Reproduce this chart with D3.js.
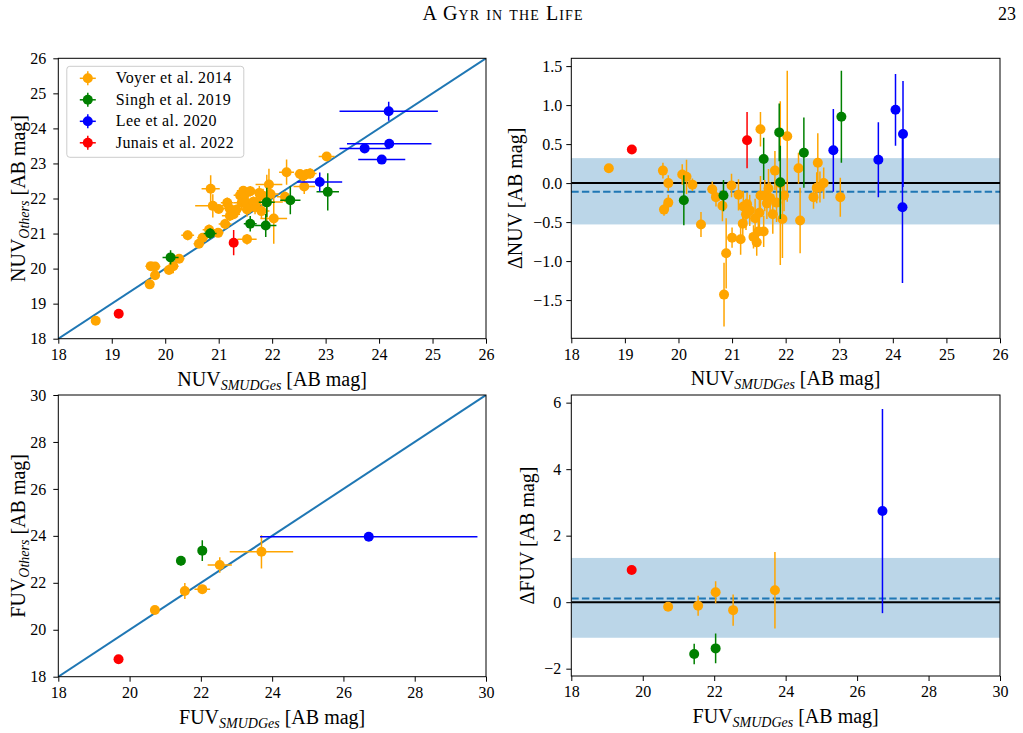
<!DOCTYPE html>
<html>
<head>
<meta charset="utf-8">
<script src="https://cdn.jsdelivr.net/npm/d3@7"></script>
<style>
  body { margin: 0; background: #fff; }
  svg text { font-family: "Liberation Serif", "DejaVu Serif", serif; fill: #000; }
</style>
</head>
<body>
<svg id="fig" width="1023" height="733"></svg>
<script>
// ---- NUV: Voyer et al. 2014 ----
const voyerNuvSmudges = [18.70, 19.71, 19.73, 19.81, 19.81, 20.07, 20.15, 20.26, 20.42, 20.63,
  20.70, 20.82, 20.85, 20.89, 20.99, 21.00, 21.12, 21.16, 21.20, 21.21,
  21.26, 21.28, 21.33, 21.40, 21.46, 21.43, 21.49, 21.53, 21.53, 21.51,
  21.59, 21.61, 21.65, 21.68, 21.71, 21.76, 21.80, 21.83, 21.90, 21.94,
  21.97, 22.03, 22.24, 22.27, 22.52, 22.60, 22.58, 22.64, 22.71, 23.02];
const voyerNuvSmudgesErr = [0.05, 0.08, 0.10, 0.10, 0.08, 0.10, 0.10, 0.10, 0.12, 0.10,
  0.10, 0.12, 0.17, 0.33, 0.10, 0.10, 0.12, 0.12, 0.12, 0.15,
  0.12, 0.12, 0.15, 0.12, 0.12, 0.15, 0.15, 0.18, 0.15, 0.12,
  0.15, 0.15, 0.15, 0.15, 0.15, 0.20, 0.15, 0.15, 0.30, 0.25,
  0.15, 0.25, 0.15, 0.14, 0.10, 0.20, 0.12, 0.12, 0.12, 0.15];
const voyerNuvOthers = [18.51, 19.55, 20.07, 20.06, 19.81, 19.96, 20.07, 20.28, 20.95, 20.71,
  20.88, 21.11, 22.28, 21.79, 21.02, 21.70, 21.27, 21.88, 21.72, 21.51,
  21.66, 21.55, 21.68, 22.09, 22.22, 21.88, 22.11, 20.84, 21.69, 21.89,
  22.21, 21.77, 21.91, 21.75, 21.90, 22.16, 21.64, 22.08, 21.90, 22.40,
  22.13, 21.43, 22.05, 22.75, 22.70, 22.34, 22.64, 22.69, 22.71, 23.20];
const voyerNuvOthersErr = [0.03, 0.08, 0.06, 0.08, 0.08, 0.10, 0.20, 0.06, 0.14, 0.08,
  0.10, 0.15, 0.38, 0.33, 0.12, 0.10, 0.15, 0.15, 0.15, 0.15,
  0.15, 0.10, 0.15, 0.12, 0.12, 0.20, 0.15, 0.15, 0.20, 0.15,
  0.15, 0.15, 0.15, 0.20, 0.15, 0.20, 0.20, 0.20, 0.78, 0.45,
  0.15, 0.72, 0.15, 0.36, 0.10, 0.21, 0.15, 0.15, 0.15, 0.12];
const voyerNuvDelta = [0.19, 0.16, -0.34, -0.25, 0.00, 0.11, 0.08, -0.02, -0.53, -0.08,
  -0.18, -0.29, -1.43, -0.90, -0.03, -0.70, -0.15, -0.72, -0.52, -0.30,
  -0.40, -0.27, -0.35, -0.69, -0.76, -0.45, -0.62, 0.69, -0.16, -0.38,
  -0.62, -0.16, -0.26, -0.07, -0.19, -0.40, 0.16, -0.25, 0.00, -0.46,
  -0.16, 0.60, 0.19, -0.48, -0.18, 0.26, -0.06, -0.05, 0.00, -0.18];
const voyerNuvDeltaErr = [0.03, 0.10, 0.08, 0.10, 0.10, 0.13, 0.22, 0.08, 0.16, 0.10,
  0.12, 0.20, 0.41, 0.45, 0.15, 0.13, 0.20, 0.20, 0.20, 0.20,
  0.20, 0.15, 0.20, 0.15, 0.17, 0.25, 0.20, 0.22, 0.25, 0.20,
  0.20, 0.20, 0.20, 0.25, 0.20, 0.25, 0.25, 0.25, 1.05, 0.50,
  0.20, 0.84, 0.20, 0.42, 0.15, 0.38, 0.20, 0.20, 0.20, 0.25];

// ---- NUV: Singh et al. 2019 ----
const singhNuvSmudges = [20.10, 20.84, 21.59, 21.88, 21.90, 22.34, 23.04];
const singhNuvSmudgesErr = [0.15, 0.12, 0.12, 0.20, 0.15, 0.19, 0.21];
const singhNuvOthers = [20.32, 21.00, 21.28, 21.23, 21.89, 21.95, 22.19];
const singhNuvOthersErr = [0.20, 0.15, 0.22, 0.33, 0.42, 0.40, 0.53];
const singhNuvDelta = [-0.22, -0.16, 0.31, 0.65, 0.01, 0.39, 0.85];
const singhNuvDeltaErr = [0.32, 0.20, 0.27, 0.37, 0.47, 0.45, 0.59];

// ---- NUV: Lee et al. 2020 ----
const leeNuvSmudges = [22.89, 23.73, 24.05, 24.19, 24.18];
const leeNuvSmudgesErr = [0.42, 0.47, 0.44, 0.79, 0.92];
const leeNuvOthers = [22.47, 23.43, 23.11, 23.56, 24.49];
const leeNuvOthersErr = [0.27, 0.10, 0.08, 0.12, 0.27];
const leeNuvDelta = [0.42, 0.30, 0.94, 0.63, -0.31];
const leeNuvDeltaErr = [0.53, 0.48, 0.46, 0.68, 0.97];

// ---- NUV: Junais et al. 2022 ----
const junaisNuvSmudges = [19.13, 21.28];
const junaisNuvSmudgesErr = [0.03, 0.05];
const junaisNuvOthers = [18.71, 20.74];
const junaisNuvOthersErr = [0.03, 0.36];
const junaisNuvDelta = [0.43, 0.55];
const junaisNuvDeltaErr = [0.03, 0.36];

// ---- FUV ----
const voyerFuvSmudges = [20.71, 21.55, 22.04, 22.53, 23.70];
const voyerFuvSmudgesErr = [0.05, 0.10, 0.22, 0.34, 0.89];
const voyerFuvOthers = [20.84, 21.65, 21.73, 22.76, 23.32];
const voyerFuvOthersErr = [0.05, 0.34, 0.10, 0.33, 0.71];
const voyerFuvDelta = [-0.14, -0.11, 0.30, -0.24, 0.36];
const voyerFuvDeltaErr = [0.05, 0.30, 0.33, 0.47, 1.15];

const singhFuvSmudges = [21.44, 22.04];
const singhFuvSmudgesErr = [0.05, 0.05];
const singhFuvOthers = [22.94, 23.37];
const singhFuvOthersErr = [0.20, 0.44];
const singhFuvDelta = [-1.56, -1.39];
const singhFuvDeltaErr = [0.31, 0.45];

const leeFuvSmudges = [26.71];
const leeFuvSmudgesErr = [3.05];
const leeFuvOthers = [23.96];
const leeFuvOthersErr = [0.12];
const leeFuvDelta = [2.74];
const leeFuvDeltaErr = [3.07];

const junaisFuvSmudges = [19.69];
const junaisFuvSmudgesErr = [0.03];
const junaisFuvOthers = [18.74];
const junaisFuvOthersErr = [0.03];
const junaisFuvDelta = [0.97];
const junaisFuvDeltaErr = [0.03];

// mean offset and scatter band of the residuals
const nuvMean = -0.11, nuvBand = [-0.53, 0.32];
const fuvMean = 0.11, fuvBand = [-1.07, 1.33];

const surveyNames = ["Voyer et al. 2014", "Singh et al. 2019", "Lee et al. 2020", "Junais et al. 2022"];
const surveyColors = ["orange", "green", "blue", "red"];

const nuvSeries = [
  [voyerNuvSmudges, voyerNuvSmudgesErr, voyerNuvOthers, voyerNuvOthersErr, voyerNuvDelta, voyerNuvDeltaErr],
  [singhNuvSmudges, singhNuvSmudgesErr, singhNuvOthers, singhNuvOthersErr, singhNuvDelta, singhNuvDeltaErr],
  [leeNuvSmudges, leeNuvSmudgesErr, leeNuvOthers, leeNuvOthersErr, leeNuvDelta, leeNuvDeltaErr],
  [junaisNuvSmudges, junaisNuvSmudgesErr, junaisNuvOthers, junaisNuvOthersErr, junaisNuvDelta, junaisNuvDeltaErr]
];
const fuvSeries = [
  [voyerFuvSmudges, voyerFuvSmudgesErr, voyerFuvOthers, voyerFuvOthersErr, voyerFuvDelta, voyerFuvDeltaErr],
  [singhFuvSmudges, singhFuvSmudgesErr, singhFuvOthers, singhFuvOthersErr, singhFuvDelta, singhFuvDeltaErr],
  [leeFuvSmudges, leeFuvSmudgesErr, leeFuvOthers, leeFuvOthersErr, leeFuvDelta, leeFuvDeltaErr],
  [junaisFuvSmudges, junaisFuvSmudgesErr, junaisFuvOthers, junaisFuvOthersErr, junaisFuvDelta, junaisFuvDeltaErr]
];

const svg = d3.select("#fig");
const lineBlue = "#1f77b4";
const serif = '"Liberation Serif", "DejaVu Serif", serif';

// running header
svg.append("text").attr("x", 503).attr("y", 20).attr("text-anchor", "middle")
  .style("font-size", "20px").style("font-variant", "small-caps").style("letter-spacing", "1.1px")
  .text("A Gyr in the Life");
svg.append("text").attr("x", 1016).attr("y", 20).attr("text-anchor", "end")
  .style("font-size", "18px").text("23");

// text with a subscript: base_sub rest
function subLabel(sel, base, sub, rest) {
  sel.append("tspan").text(base);
  if (sub) sel.append("tspan").attr("dy", 4).style("font-size", "14px").style("font-style", "italic").text(sub);
  sel.append("tspan").attr("dy", sub ? -4 : 0).text(rest);
}

function drawPanel(p) {
  const g = svg.append("g").attr("transform", `translate(${p.left},${p.top})`);
  const x = d3.scaleLinear().domain(p.xDomain).range([0, p.width]);
  const y = d3.scaleLinear().domain(p.yDomain).range([p.height, 0]);

  const clipId = "clip-" + p.id;
  g.append("clipPath").attr("id", clipId)
    .append("rect").attr("width", p.width).attr("height", p.height);
  const plot = g.append("g").attr("clip-path", `url(#${clipId})`);

  if (p.mode === "compare") {
    plot.append("line")
      .attr("x1", x(p.xDomain[0])).attr("y1", y(p.xDomain[0]))
      .attr("x2", x(p.xDomain[1])).attr("y2", y(p.xDomain[1]))
      .attr("stroke", lineBlue).attr("stroke-width", 2);
  } else {
    plot.append("rect").attr("x", 0).attr("width", p.width)
      .attr("y", y(p.band[1])).attr("height", y(p.band[0]) - y(p.band[1]))
      .attr("fill", lineBlue).attr("fill-opacity", 0.3);
    plot.append("line").attr("x1", 0).attr("x2", p.width)
      .attr("y1", y(0)).attr("y2", y(0))
      .attr("stroke", "#000").attr("stroke-width", 2);
    plot.append("line").attr("x1", 0).attr("x2", p.width)
      .attr("y1", y(p.mean)).attr("y2", y(p.mean))
      .attr("stroke", lineBlue).attr("stroke-width", 2).attr("stroke-dasharray", "7.4,3.2");
  }

  p.series.forEach((s, k) => {
    const color = surveyColors[k];
    const pts = s[0].map((v, i) => p.mode === "compare"
      ? { x: v, xe: s[1][i], y: s[2][i], ye: s[3][i] }
      : { x: v, xe: 0, y: s[4][i], ye: s[5][i] });
    const sg = plot.append("g");
    sg.selectAll("line.ey").data(pts).join("line").attr("class", "ey")
      .attr("x1", d => x(d.x)).attr("x2", d => x(d.x))
      .attr("y1", d => y(d.y - d.ye)).attr("y2", d => y(d.y + d.ye))
      .attr("stroke", color).attr("stroke-width", 1.5);
    if (p.mode === "compare") {
      sg.selectAll("line.ex").data(pts).join("line").attr("class", "ex")
        .attr("x1", d => x(d.x - d.xe)).attr("x2", d => x(d.x + d.xe))
        .attr("y1", d => y(d.y)).attr("y2", d => y(d.y))
        .attr("stroke", color).attr("stroke-width", 1.5);
    }
    sg.selectAll("circle").data(pts).join("circle")
      .attr("cx", d => x(d.x)).attr("cy", d => y(d.y)).attr("r", 5)
      .attr("fill", color);
  });

  // frame
  g.append("rect").attr("width", p.width).attr("height", p.height)
    .attr("fill", "none").attr("stroke", "#000").attr("stroke-width", 1);

  const xAxis = g.append("g").attr("transform", `translate(0,${p.height})`)
    .call(d3.axisBottom(x).tickValues(p.xTicks).tickSize(5).tickPadding(5).tickFormat(d3.format("d")));
  const yAxis = g.append("g")
    .call(d3.axisLeft(y).tickValues(p.yTicks).tickSize(5).tickPadding(p.yPad).tickFormat(p.yFormat));
  [xAxis, yAxis].forEach(a => {
    a.attr("font-family", serif).attr("font-size", 16);
    a.select(".domain").remove();
    a.selectAll(".tick line").attr("stroke", "#000");
    a.selectAll(".tick text").attr("fill", "#000");
  });

  // axis labels
  const xl = g.append("text").attr("x", p.width / 2).attr("y", p.height + 47)
    .attr("text-anchor", "middle").style("font-size", "20px");
  subLabel(xl, p.xLabel[0], p.xLabel[1], p.xLabel[2]);
  const yl = g.append("text")
    .attr("transform", `translate(${p.yLabelX},${p.height / 2}) rotate(-90)`)
    .attr("text-anchor", "middle").style("font-size", "20px");
  subLabel(yl, p.yLabel[0], p.yLabel[1], p.yLabel[2]);

  if (p.legend) {
    const lg = g.append("g").attr("transform", "translate(8.5,8)");
    lg.append("rect").attr("width", 177).attr("height", 91).attr("rx", 3)
      .attr("fill", "#fff").attr("fill-opacity", 0.8).attr("stroke", "#ccc");
    surveyNames.forEach((name, i) => {
      const cy = 12 + i * 21.5;
      const it = lg.append("g").attr("transform", `translate(21,${cy})`);
      it.append("line").attr("x1", -8).attr("x2", 8).attr("stroke", surveyColors[i]).attr("stroke-width", 1.5);
      it.append("line").attr("y1", -7).attr("y2", 7).attr("stroke", surveyColors[i]).attr("stroke-width", 1.5);
      it.append("circle").attr("r", 5).attr("fill", surveyColors[i]);
      it.append("text").attr("x", 28).attr("y", 5).style("font-size", "16px")
        .style("letter-spacing", "0.4px").text(name);
    });
  }
}

const fmt1 = d3.format(".1f");
const fmt0 = d3.format("d");

drawPanel({ id: "nuv", mode: "compare", left: 58.3, top: 58.3, width: 427.7, height: 280.4,
  xDomain: [18, 26], yDomain: [18, 26], xTicks: d3.range(18, 27, 1), yTicks: d3.range(18, 27, 1),
  yFormat: fmt0, yPad: 7, series: nuvSeries, legend: true, yLabelX: -33,
  xLabel: ["NUV", "SMUDGes", " [AB mag]"], yLabel: ["NUV", "Others", " [AB mag]"] });

drawPanel({ id: "dnuv", mode: "delta", left: 571.3, top: 58.3, width: 428.7, height: 280,
  xDomain: [18, 26], yDomain: [-1.99, 1.60], xTicks: d3.range(18, 27, 1), yTicks: [-1.5, -1, -0.5, 0, 0.5, 1, 1.5],
  yFormat: fmt1, yPad: 4, series: nuvSeries, band: nuvBand, mean: nuvMean, yLabelX: -49,
  xLabel: ["NUV", "SMUDGes", " [AB mag]"], yLabel: ["ΔNUV [AB mag]", "", ""] });

drawPanel({ id: "fuv", mode: "compare", left: 58.3, top: 395, width: 427.7, height: 281.7,
  xDomain: [18, 30], yDomain: [18, 30], xTicks: d3.range(18, 31, 2), yTicks: d3.range(18, 31, 2),
  yFormat: fmt0, yPad: 7, series: fuvSeries, legend: false, yLabelX: -33,
  xLabel: ["FUV", "SMUDGes", " [AB mag]"], yLabel: ["FUV", "Others", " [AB mag]"] });

drawPanel({ id: "dfuv", mode: "delta", left: 571.3, top: 395, width: 428.7, height: 281,
  xDomain: [18, 30], yDomain: [-2.22, 6.23], xTicks: d3.range(18, 31, 2), yTicks: [-2, 0, 2, 4, 6],
  yFormat: fmt0, yPad: 5, series: fuvSeries, band: fuvBand, mean: fuvMean, yLabelX: -37,
  xLabel: ["FUV", "SMUDGes", " [AB mag]"], yLabel: ["ΔFUV [AB mag]", "", ""] });
</script>
</body>
</html>
